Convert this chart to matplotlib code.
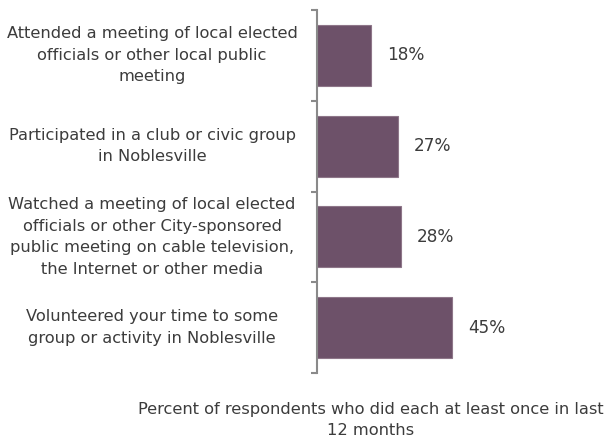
import matplotlib
matplotlib.use("Agg")
import matplotlib.pyplot as plt

categories = [
    "Attended a meeting of local elected\nofficials or other local public\nmeeting",
    "Participated in a club or civic group\nin Noblesville",
    "Watched a meeting of local elected\nofficials or other City-sponsored\npublic meeting on cable television,\nthe Internet or other media",
    "Volunteered your time to some\ngroup or activity in Noblesville",
]
values = [18, 27, 28, 45]
value_labels = ["18%", "27%", "28%", "45%"]
axis_title = "Percent of respondents who did each at least once in last\n12 months"

BAR = "#6D5169"
EDGE = "#8E7689"
TEXT = "#3C3C3C"
AXIS = "#8A8A8A"
FONT = "DejaVu Sans"
FS = 11.7
LS = 1.55

W, H = 608, 441
fig = plt.figure(figsize=(W / 100, H / 100), dpi=100)
ax_left, ax_right = 317 / W, 587 / W
ax_top, ax_bottom = 1 - 10 / H, 1 - 373 / H
ax = fig.add_axes([ax_left, ax_bottom, ax_right - ax_left, ax_top - ax_bottom])

ypos = list(range(len(categories)))
ax.barh(ypos, values, height=0.67, color=BAR, edgecolor=EDGE, linewidth=0.8)

ax.set_xlim(0, 90)
ax.set_ylim(len(categories) - 0.5, -0.5)

for y, v, lab in zip(ypos, values, value_labels):
    ax.annotate(lab, xy=(v, y), xytext=(16 * 0.72, 0), textcoords="offset points",
                ha="left", va="center", fontsize=12.2, color=TEXT, family=FONT)

# category labels, centred as blocks to the left of the axis
label_x = (152 - 317) / (587 - 317)
for y, cat in zip(ypos, categories):
    ax.text(label_x, y, cat, transform=ax.get_yaxis_transform(), ha="center",
            va="center", multialignment="center", fontsize=FS, color=TEXT,
            family=FONT, linespacing=LS)

for s in ("top", "right", "bottom"):
    ax.spines[s].set_visible(False)
ax.spines["left"].set_color(AXIS)
ax.spines["left"].set_linewidth(1.5)
ax.set_xticks([])
ax.set_yticks([i - 0.5 for i in range(len(categories) + 1)])
ax.set_yticklabels([])
ax.tick_params(axis="y", length=4, width=1.5, color=AXIS, direction="out")

fig.text(371 / W, 1 - 420 / H, axis_title, ha="center", va="center",
         multialignment="center", fontsize=FS, color=TEXT, family=FONT,
         linespacing=LS)

fig.savefig("out.png", dpi=100, facecolor="white")
